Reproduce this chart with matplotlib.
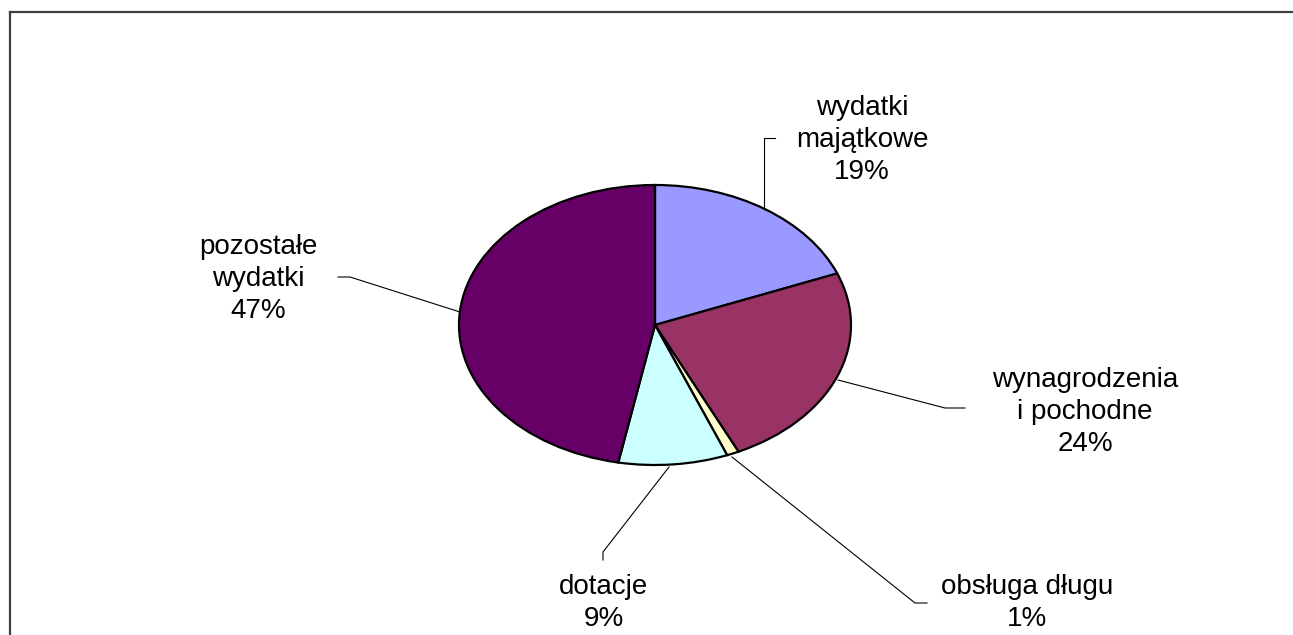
import matplotlib.pyplot as plt
from matplotlib.lines import Line2D

plt.rcParams['font.family'] = ['Liberation Sans', 'DejaVu Sans']

categories = ['wydatki\nmajątkowe', 'wynagrodzenia\ni pochodne', 'obsługa długu', 'dotacje', 'pozostałe\nwydatki']
shares = [19, 24, 1, 9, 47]
colors = ['#9999FF', '#993366', '#FFFFCC', '#CCFFFF', '#660066']

W, H = 1293, 635
CX, CY, RX, RY = 655, 325, 196, 140  # pie centre and radii in pixels


def px(x, y):
    # pixel position -> data coords of the (stretched) pie axes
    return (x - CX) / RX, (CY - y) / RY


fig = plt.figure(figsize=(W / 100, H / 100), dpi=100)
ax = fig.add_axes([0, 0, 1, 1])
ax.pie(shares, colors=colors, startangle=90, counterclock=False,
       wedgeprops=dict(edgecolor='black', linewidth=1.6))
ax.set_aspect('auto')
ax.set_xlim(px(0, 0)[0], px(W, 0)[0])
ax.set_ylim(px(0, H)[1], px(0, 0)[1])
ax.axis('off')

# label text centre and leader line path (pixels)
labels = [
    ((862, 140), [(764, 208), (764, 138), (775, 138)]),
    ((1085, 412), [(838, 380), (945, 408), (965, 408)]),
    ((1027, 603), [(732, 457), (915, 603), (927, 603)]),
    ((604, 603), [(669, 467), (603, 552), (603, 560)]),
    ((258, 279), [(460, 312), (350, 277), (338, 277)]),
]

for name, share, (pos, path) in zip(categories, shares, labels):
    ax.text(*px(*pos), f'{name}\n{share}%', ha='center', va='center',
            fontsize=20, linespacing=1.3)
    xs, ys = zip(*[px(*p) for p in path])
    ax.plot(xs, ys, color='black', linewidth=0.8)

# outer chart frame (only left and top visible)
fig.add_artist(Line2D([10 / W, 10 / W], [0, 1 - 12 / H], color='#404040', linewidth=1.6))
fig.add_artist(Line2D([10 / W, 1], [1 - 12 / H, 1 - 12 / H], color='#404040', linewidth=1.6))

fig.savefig('out.png', dpi=100)
